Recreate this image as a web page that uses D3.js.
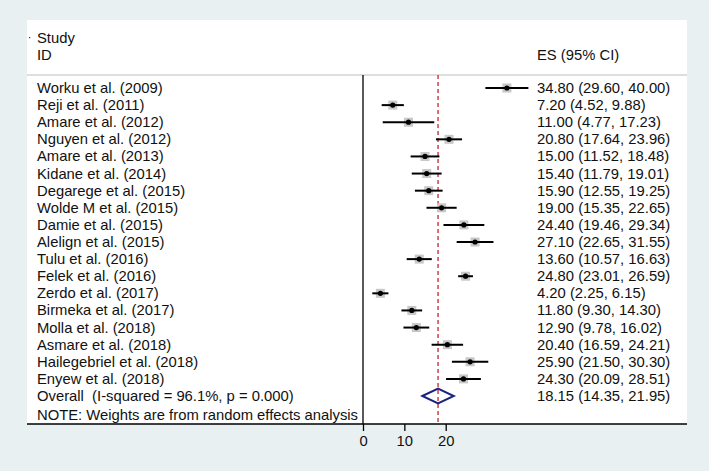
<!DOCTYPE html>
<html><head><meta charset="utf-8">
<script src="https://cdn.jsdelivr.net/npm/d3@7"></script>
<style>
html,body{margin:0;padding:0;background:#e9f0f1;}
svg{display:block;font-family:"Liberation Sans",Arial,Helvetica,sans-serif;}
text{white-space:pre;}
</style></head>
<body>
<svg id="chart" width="709" height="471"></svg>
<script>
const studies = ["Worku et al. (2009)","Reji et al. (2011)","Amare et al. (2012)","Nguyen et al. (2012)","Amare et al. (2013)","Kidane et al. (2014)","Degarege et al. (2015)","Wolde M et al. (2015)","Damie et al. (2015)","Alelign et al. (2015)","Tulu et al. (2016)","Felek et al. (2016)","Zerdo et al. (2017)","Birmeka et al. (2017)","Molla et al. (2018)","Asmare et al. (2018)","Hailegebriel et al. (2018)","Enyew et al. (2018)"];
const es    = [34.80, 7.20, 11.00, 20.80, 15.00, 15.40, 15.90, 19.00, 24.40, 27.10, 13.60, 24.80, 4.20, 11.80, 12.90, 20.40, 25.90, 24.30];
const lower = [29.60, 4.52, 4.77, 17.64, 11.52, 11.79, 12.55, 15.35, 19.46, 22.65, 10.57, 23.01, 2.25, 9.30, 9.78, 16.59, 21.50, 20.09];
const upper = [40.00, 9.88, 17.23, 23.96, 18.48, 19.01, 19.25, 22.65, 29.34, 31.55, 16.63, 26.59, 6.15, 14.30, 16.02, 24.21, 30.30, 28.51];
const overallLabel = "Overall  (I-squared = 96.1%, p = 0.000)";
const overall = {es: 18.15, lower: 14.35, upper: 21.95};
const noteText = "NOTE: Weights are from random effects analysis";
const xTicks = [0, 10, 20];

const svg = d3.select("#chart");
const fmt = d3.format(".2f");
const ink = "#111";

// white panel
svg.append("rect").attr("x", 27).attr("y", 20).attr("width", 660).attr("height", 404).attr("fill", "#ffffff");

const x = d3.scaleLinear().domain([0, 20]).range([363, 445.7]);
const rowLabels = studies.concat([overallLabel]);
const y = d3.scalePoint().domain(d3.range(rowLabels.length)).range([88, 396]);

const fs = 14.8;
// header
svg.append("text").attr("x", 37).attr("y", 43).attr("font-size", fs).attr("fill", ink).text("Study");
svg.append("text").attr("x", 37).attr("y", 60).attr("font-size", fs).attr("fill", ink).text("ID");
svg.append("text").attr("x", 537).attr("y", 60).attr("font-size", fs).attr("fill", ink).text("ES (95% CI)");
svg.append("rect").attr("x", 29).attr("y", 37).attr("width", 1.2).attr("height", 1.2).attr("fill", "#333");
svg.append("line").attr("x1", 27).attr("x2", 687).attr("y1", 75).attr("y2", 75).attr("stroke", "#bdbdbd").attr("stroke-width", 1.2);

// null line
svg.append("line").attr("x1", x(0)).attr("x2", x(0)).attr("y1", 75).attr("y2", 424).attr("stroke", "#000").attr("stroke-width", 1.3);
// overall dashed line
svg.append("line").attr("x1", x(overall.es)).attr("x2", x(overall.es)).attr("y1", 75).attr("y2", 424)
  .attr("stroke", "#c0272d").attr("stroke-width", 1.3).attr("stroke-dasharray", "4,3");

// labels
svg.append("g").selectAll("text").data(rowLabels).join("text")
  .attr("x", 37).attr("y", (d, i) => y(i) + 5).attr("font-size", fs).attr("fill", ink).text(d => d);

svg.append("g").selectAll("text").data(studies).join("text")
  .attr("x", 537).attr("y", (d, i) => y(i) + 5).attr("font-size", fs).attr("fill", ink)
  .text((d, i) => `${fmt(es[i])} (${fmt(lower[i])}, ${fmt(upper[i])})`);
svg.append("text").attr("x", 537).attr("y", y(studies.length) + 5).attr("font-size", fs).attr("fill", ink)
  .text(`${fmt(overall.es)} (${fmt(overall.lower)}, ${fmt(overall.upper)})`);

// weight boxes
svg.append("g").selectAll("rect").data(studies).join("rect")
  .attr("x", (d, i) => x(es[i]) - 4.5).attr("y", (d, i) => y(i) - 4.5)
  .attr("width", 9).attr("height", 9).attr("fill", "#c8c8c8");
// CI lines
svg.append("g").selectAll("line").data(studies).join("line")
  .attr("x1", (d, i) => x(lower[i])).attr("x2", (d, i) => x(upper[i]))
  .attr("y1", (d, i) => y(i)).attr("y2", (d, i) => y(i))
  .attr("stroke", "#000").attr("stroke-width", 2);
// points
svg.append("g").selectAll("circle").data(studies).join("circle")
  .attr("cx", (d, i) => x(es[i])).attr("cy", (d, i) => y(i)).attr("r", 2.6).attr("fill", "#000");

// diamond
const yo = y(studies.length);
svg.append("path")
  .attr("d", `M${x(overall.lower)},${yo} L${x(overall.es)},${yo - 7.5} L${x(overall.upper)},${yo} L${x(overall.es)},${yo + 7.5} Z`)
  .attr("fill", "none").attr("stroke", "#1a237e").attr("stroke-width", 2);

// note
svg.append("text").attr("x", 37).attr("y", 420).attr("font-size", fs).attr("fill", ink).text(noteText);

// axis
svg.append("line").attr("x1", 27).attr("x2", 687).attr("y1", 424).attr("y2", 424).attr("stroke", "#000").attr("stroke-width", 1.5);
const axis = d3.axisBottom(x).tickValues(xTicks).tickSize(7).tickPadding(4).tickFormat(d3.format("d"));
const ag = svg.append("g").attr("transform", "translate(0,424)").call(axis);
ag.select(".domain").remove();
ag.selectAll(".tick line").attr("stroke", "#000").attr("stroke-width", 1.3);
ag.selectAll(".tick text").attr("font-size", fs).attr("font-family", "Liberation Sans, Arial, sans-serif").attr("fill", ink);
</script>
</body></html>
